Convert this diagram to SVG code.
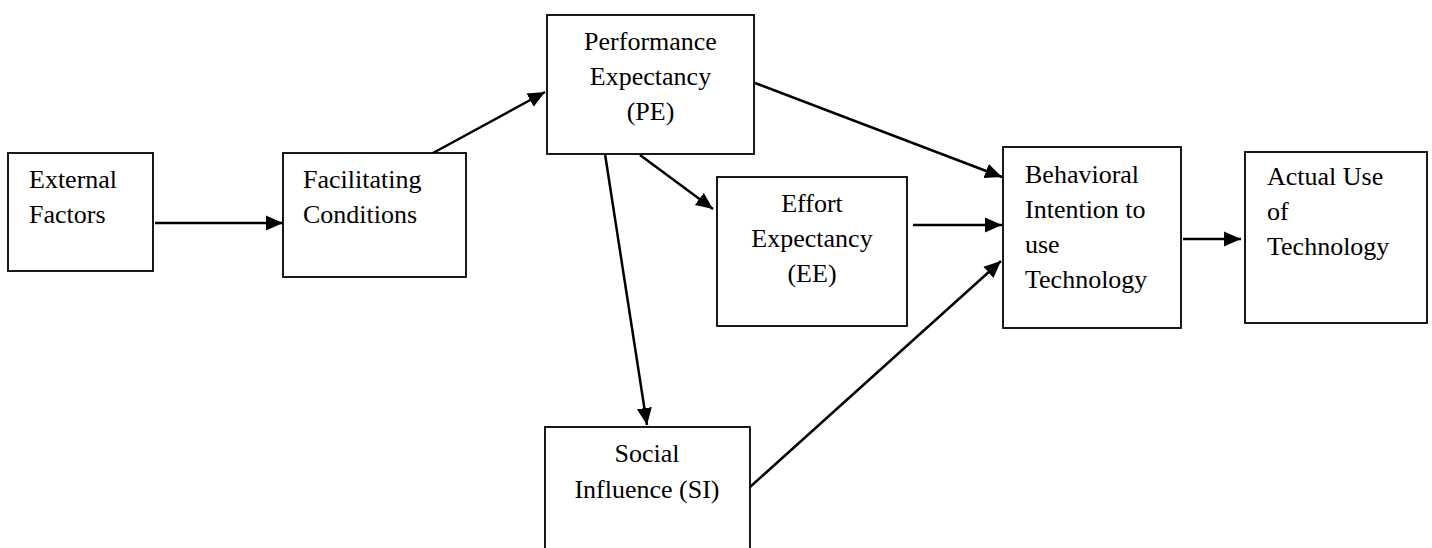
<svg xmlns="http://www.w3.org/2000/svg" width="1432" height="548" viewBox="0 0 1432 548">
<style>
.box{fill:#fff;stroke:#000;stroke-width:1.8}
.t{font-family:"Liberation Serif","Times New Roman",serif;font-size:26px;fill:#000}
.c{text-anchor:middle}
.ln{stroke:#000;stroke-width:2.5;fill:none;marker-end:url(#ah)}
</style>
<defs>
<marker id="ah" markerUnits="userSpaceOnUse" markerWidth="18" markerHeight="16" refX="17" refY="8" orient="auto">
<path d="M0,0.5 L17,8 L0,15.5 Z" fill="#000"/>
</marker>
</defs>
<rect width="1432" height="548" fill="#fff"/>
<g id="connectors">
<line class="ln" x1="155" y1="223" x2="283" y2="223"/>
<line class="ln" x1="433" y1="153" x2="545" y2="92"/>
<line class="ln" x1="640" y1="155" x2="713" y2="209"/>
<line class="ln" x1="605" y1="154" x2="647" y2="425"/>
<line class="ln" x1="755" y1="83" x2="1002" y2="177"/>
<line class="ln" x1="913" y1="225" x2="1002" y2="225"/>
<line class="ln" x1="750" y1="487" x2="1001" y2="261"/>
<line class="ln" x1="1183" y1="239" x2="1241" y2="239"/>
</g>
<g id="external">
<rect class="box" x="8" y="153" width="145" height="118"/>
<text class="t" x="29" y="188">External</text>
<text class="t" x="29" y="223">Factors</text>
</g>
<g id="facilitating">
<rect class="box" x="283" y="153" width="183" height="124"/>
<text class="t" x="303" y="188">Facilitating</text>
<text class="t" x="303" y="223">Conditions</text>
</g>
<g id="pe">
<rect class="box" x="547" y="15" width="207" height="139"/>
<text class="t c" x="650.5" y="50">Performance</text>
<text class="t c" x="650.5" y="85">Expectancy</text>
<text class="t c" x="650.5" y="120">(PE)</text>
</g>
<g id="ee">
<rect class="box" x="717" y="177" width="190" height="149"/>
<text class="t c" x="812" y="212">Effort</text>
<text class="t c" x="812" y="247">Expectancy</text>
<text class="t c" x="812" y="282">(EE)</text>
</g>
<g id="si">
<rect class="box" x="545" y="427" width="205" height="140"/>
<text class="t c" x="647" y="462">Social</text>
<text class="t c" x="647" y="498">Influence (SI)</text>
</g>
<g id="bi">
<rect class="box" x="1003" y="147" width="178" height="181"/>
<text class="t" x="1025" y="183">Behavioral</text>
<text class="t" x="1025" y="218">Intention to</text>
<text class="t" x="1025" y="253">use</text>
<text class="t" x="1025" y="288">Technology</text>
</g>
<g id="actual">
<rect class="box" x="1245" y="152" width="182" height="171"/>
<text class="t" x="1267" y="185">Actual Use</text>
<text class="t" x="1267" y="220">of</text>
<text class="t" x="1267" y="255">Technology</text>
</g>
</svg>
